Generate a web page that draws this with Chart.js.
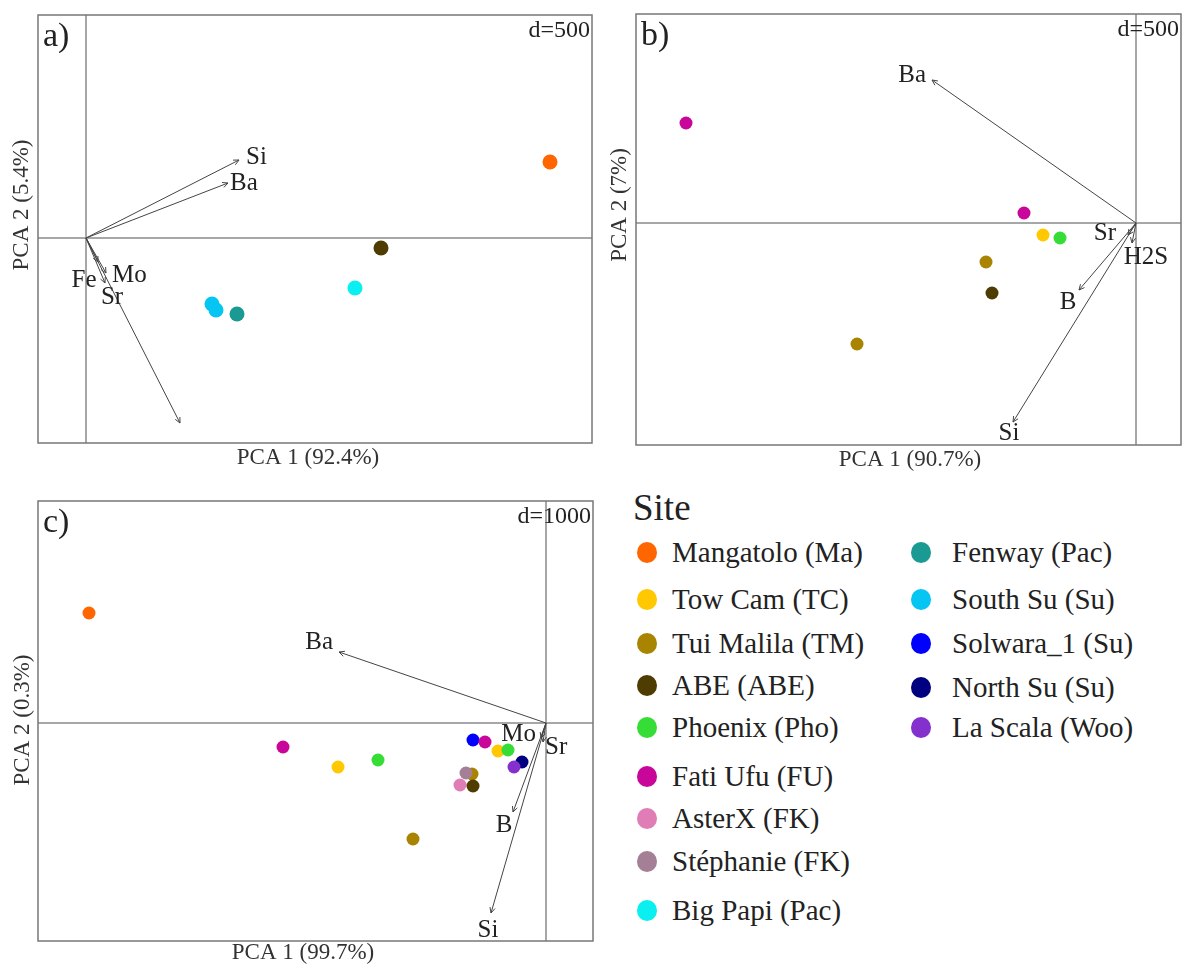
<!DOCTYPE html>
<html><head><meta charset="utf-8">
<script src="https://cdn.jsdelivr.net/npm/chart.js@4.4.1/dist/chart.umd.min.js"></script>
<style>
body{margin:0;background:#fff;}
#wrap{position:relative;width:1182px;height:964px;overflow:hidden;font-family:"Liberation Serif","Times New Roman",serif;color:#222;}
canvas{position:absolute;}
.lt{position:absolute;font-size:37px;line-height:40px;white-space:nowrap;}
.it{position:absolute;font-size:29px;line-height:34px;white-space:nowrap;}
.dot{position:absolute;width:20px;height:21px;border-radius:50%;}
</style>
</head><body>
<div id="wrap">
<canvas id="ca" width="600" height="475" style="left:0;top:0"></canvas>
<canvas id="cb" width="582" height="475" style="left:600px;top:0"></canvas>
<canvas id="cc" width="600" height="484" style="left:0;top:480px"></canvas>
</div>
<script>
// ---------- sites & colours ----------
const siteNames = ['Mangatolo (Ma)','Tow Cam (TC)','Tui Malila (TM)','ABE (ABE)','Phoenix (Pho)','Fati Ufu (FU)','AsterX (FK)','Stéphanie (FK)','Big Papi (Pac)','Fenway (Pac)','South Su (Su)','Solwara_1 (Su)','North Su (Su)','La Scala (Woo)'];
const siteColors = ['#FF6600','#FFC800','#A88400','#4F3C00','#37DD37','#C8069A','#E07DB6','#A47F96','#0AEFEF','#1A9A92','#05C6F2','#0000FF','#000080','#8430CC'];

// ---------- panel a ----------
const aSites = ['Mangatolo (Ma)','ABE (ABE)','Big Papi (Pac)','South Su (Su)','South Su (Su)','Fenway (Pac)'];
const aPC1 = [2320, 1475, 1345, 630, 650, 755];
const aPC2 = [380, -50, -250, -330, -360, -380];
const aVarNames = ['Si','Ba','','Fe','Mo','Sr'];
const aVarPC1 = [765, 710, 470, 60, 100, 95];
const aVarPC2 = [390, 275, -925, -120, -175, -225];

// ---------- panel b ----------
const bSites = ['Fati Ufu (FU)','Fati Ufu (FU)','Tow Cam (TC)','Phoenix (Pho)','Tui Malila (TM)','ABE (ABE)','Tui Malila (TM)'];
const bPC1 = [-2250, -560, -465, -380, -750, -720, -1395];
const bPC2 = [500, 50, -60, -75, -195, -350, -605];
const bVarNames = ['Ba','Si','B','Sr','H2S'];
const bVarPC1 = [-1020, -615, -285, -40, -20];
const bVarPC2 = [715, -995, -335, -60, -100];

// ---------- panel c ----------
const cSites = ['Mangatolo (Ma)','Fati Ufu (FU)','Tow Cam (TC)','Phoenix (Pho)','Tui Malila (TM)','Solwara_1 (Su)','Fati Ufu (FU)','Tow Cam (TC)','Phoenix (Pho)','North Su (Su)','La Scala (Woo)','Tui Malila (TM)','Stéphanie (FK)','AsterX (FK)','ABE (ABE)'];
const cPC1 = [-4570, -2630, -2080, -1680, -1330, -730, -610, -480, -380, -240, -320, -740, -800, -860, -730];
const cPC2 = [1100, -240, -440, -370, -1160, -170, -190, -280, -270, -390, -440, -510, -500, -620, -630];
const cVarNames = ['Ba','Si','B','Mo','Sr'];
const cVarPC1 = [-2070, -550, -330, -50, -30];
const cVarPC2 = [710, -1900, -890, -150, -190];

// ---------- legend layout ----------
const legendLeft = siteNames.slice(0, 9);
const legendRight = siteNames.slice(9);
const rowsLeft = [552, 599, 643, 685, 727, 776, 818, 861, 910];
const rowsRight = [552, 599, 643, 687, 727];

const FONT = '"Liberation Serif","Times New Roman",serif';
const colorOf = s => siteColors[siteNames.indexOf(s)];

const decor = {
  id: 'decor',
  beforeDatasetsDraw(chart, args, o) {
    const ctx = chart.ctx, a = chart.chartArea;
    const xs = chart.scales.x, ys = chart.scales.y;
    const x0 = xs.getPixelForValue(0), y0 = ys.getPixelForValue(0);
    ctx.save();
    // origin lines
    ctx.strokeStyle = '#8a8a8a'; ctx.lineWidth = 1.5;
    ctx.beginPath();
    ctx.moveTo(x0, a.top); ctx.lineTo(x0, a.bottom);
    ctx.moveTo(a.left, y0); ctx.lineTo(a.right, y0);
    ctx.stroke();
    // frame
    ctx.strokeStyle = '#777'; ctx.lineWidth = 1.5;
    ctx.strokeRect(a.left, a.top, a.right - a.left, a.bottom - a.top);
    // arrows
    ctx.strokeStyle = '#444'; ctx.lineWidth = 1;
    o.names.forEach((n, i) => {
      const ex = xs.getPixelForValue(o.pc1[i]), ey = ys.getPixelForValue(o.pc2[i]);
      ctx.beginPath(); ctx.moveTo(x0, y0); ctx.lineTo(ex, ey); ctx.stroke();
      const ang = Math.atan2(ey - y0, ex - x0), L = 6, w = 0.45;
      ctx.beginPath();
      ctx.moveTo(ex - L * Math.cos(ang - w), ey - L * Math.sin(ang - w));
      ctx.lineTo(ex, ey);
      ctx.lineTo(ex - L * Math.cos(ang + w), ey - L * Math.sin(ang + w));
      ctx.stroke();
      const p = o.place[i];
      if (n && p) {
        ctx.fillStyle = '#222'; ctx.font = '25px ' + FONT;
        ctx.textAlign = p[2]; ctx.textBaseline = 'middle';
        ctx.fillText(n, ex + p[0], ey + p[1]);
      }
    });
    // panel letter & d=
    ctx.fillStyle = '#222';
    ctx.font = '34px ' + FONT; ctx.textAlign = 'left'; ctx.textBaseline = 'alphabetic';
    ctx.fillText(o.letter, a.left + 5, a.top + 31);
    ctx.font = '24px ' + FONT; ctx.textAlign = 'right';
    ctx.fillText(o.dtext, a.right - 2, a.top + 22);
    // axis titles
    ctx.fillStyle = '#333'; ctx.font = '23px ' + FONT; ctx.textAlign = 'center'; ctx.textBaseline = 'middle';
    ctx.fillText(o.xTitle, o.xTitlePos[0], o.xTitlePos[1]);
    ctx.save();
    ctx.translate(o.yTitlePos[0], o.yTitlePos[1]); ctx.rotate(-Math.PI / 2);
    ctx.fillText(o.yTitle, 0, 0);
    ctx.restore();
    ctx.restore();
  }
};

function makePanel(id, sites, pc1, pc2, decorOpts, range, pad, radius) {
  new Chart(document.getElementById(id), {
    type: 'scatter',
    data: {
      datasets: [{
        label: 'sites',
        data: pc1.map((v, i) => ({ x: v, y: pc2[i] })),
        backgroundColor: sites.map(colorOf),
        borderColor: sites.map(colorOf),
        borderWidth: 0,
        pointRadius: radius,
        clip: false
      }]
    },
    options: {
      responsive: false, animation: false, devicePixelRatio: 1, events: [],
      layout: { padding: pad, autoPadding: false },
      scales: {
        x: { type: 'linear', display: false, min: range[0], max: range[1] },
        y: { type: 'linear', display: false, min: range[2], max: range[3] }
      },
      plugins: { legend: { display: false }, tooltip: { enabled: false }, decor: decorOpts }
    },
    plugins: [decor]
  });
}

makePanel('ca', aSites, aPC1, aPC2, {
  names: aVarNames, pc1: aVarPC1, pc2: aVarPC2,
  place: [[7, -3, 'left'], [2, 0, 'left'], null, [-14, 18, 'center'], [6, 2, 'left'], [7, 14, 'center']],
  letter: 'a)', dtext: 'd=500', xTitle: 'PCA 1 (92.4%)', yTitle: 'PCA 2 (5.4%)',
  xTitlePos: [308, 458], yTitlePos: [22, 205]
}, [-240, 2530, -1025, 1115], { left: 38, top: 15, right: 8, bottom: 32 }, 7.5);

makePanel('cb', bSites, bPC1, bPC2, {
  names: bVarNames, pc1: bVarPC1, pc2: bVarPC2,
  place: [[-6, -5, 'right'], [-4, 11, 'center'], [-11, 12, 'center'], [-12, -2, 'right'], [14, 14, 'center']],
  letter: 'b)', dtext: 'd=500', xTitle: 'PCA 1 (90.7%)', yTitle: 'PCA 2 (7%)',
  xTitlePos: [310, 460], yTitlePos: [20, 205]
}, [-2500, 225, -1110, 1045], { left: 36, top: 14, right: 1, bottom: 30 }, 6.5);

makePanel('cc', cSites, cPC1, cPC2, {
  names: cVarNames, pc1: cVarPC1, pc2: cVarPC2,
  place: [[-6, -10, 'right'], [-3, 17, 'center'], [-9, 13, 'center'], [-5, -4, 'right'], [2, 5, 'left']],
  letter: 'c)', dtext: 'd=1000', xTitle: 'PCA 1 (99.7%)', yTitle: 'PCA 2 (0.3%)',
  xTitlePos: [303, 473], yTitlePos: [23, 240]
}, [-5080, 470, -2180, 2220], { left: 38, top: 21, right: 7, bottom: 23 }, 6.5);

// ---------- legend (HTML) ----------
const wrap = document.getElementById('wrap');
const t = document.createElement('div');
t.className = 'lt'; t.textContent = 'Site';
t.style.left = '633px'; t.style.top = (508 - 20) + 'px';
wrap.appendChild(t);
function addItem(name, cx, tx, cy) {
  const d = document.createElement('div');
  d.className = 'dot'; d.style.background = colorOf(name);
  d.style.left = (cx - 10) + 'px'; d.style.top = (cy - 10.5) + 'px';
  wrap.appendChild(d);
  const s = document.createElement('div');
  s.className = 'it'; s.textContent = name;
  s.style.left = tx + 'px'; s.style.top = (cy - 17) + 'px';
  wrap.appendChild(s);
}
legendLeft.forEach((n, i) => addItem(n, 647, 672, rowsLeft[i]));
legendRight.forEach((n, i) => addItem(n, 921, 952, rowsRight[i]));
</script>
</body></html>
